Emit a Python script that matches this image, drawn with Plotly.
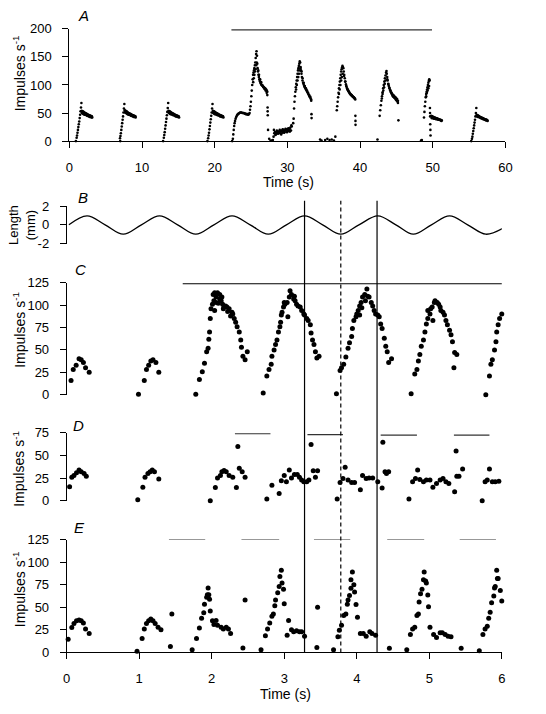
import plotly.graph_objects as go

# ---------------- Panel A data (time s, impulses/s) ----------------
a_t_b1 = [1.00,1.06,1.12,1.18,1.24,1.30,1.36,1.42,1.48,1.54,1.60,1.66,1.70,1.76,1.82,1.88,1.94,2.00,2.06,2.12,2.18,2.24,2.30,2.38,2.46,2.54,2.62,2.70,2.78,2.86,2.94,3.02,3.10,
          1.73,1.85,1.97,2.09,2.21,2.33,2.45,2.57,2.69,2.81,2.93,3.05,3.15]
a_v_b1 = [6,10,15,20,25,30,35,41,47,53,60,68,54,53,53,52,52,51,51,50,50,49,49,48,48,47,47,46,46,45,45,44,44,
          50,49,48,47,47,46,45,45,44,43,43,42,42]
a_t_b2 = [6.97,7.03,7.09,7.15,7.21,7.27,7.33,7.39,7.45,7.51,7.57,7.62,7.68,7.74,7.80,7.86,7.92,7.98,8.04,8.10,8.16,8.22,8.30,8.38,8.46,8.54,8.62,8.70,8.78,8.86,8.94,9.02,9.10,
          7.66,7.78,7.90,8.02,8.14,8.26,8.38,8.50,8.62,8.74,8.86,8.98,9.12]
a_v_b2 = [5,9,14,20,26,32,38,44,51,58,66,55,54,54,53,53,52,51,51,50,50,49,49,48,48,47,47,46,46,45,45,44,44,
          51,50,49,48,47,47,46,45,45,44,43,43,42]
a_t_b3 = [13.00,13.06,13.12,13.18,13.24,13.30,13.36,13.42,13.48,13.54,13.60,13.65,13.71,13.77,13.83,13.89,13.95,14.01,14.07,14.13,14.19,14.25,14.33,14.41,14.49,14.57,14.65,14.73,14.81,14.89,14.97,15.05,
          13.69,13.81,13.93,14.05,14.17,14.29,14.41,14.53,14.65,14.77,14.89,15.01,15.10]
a_v_b3 = [6,11,16,22,28,34,40,46,52,59,68,54,53,53,52,52,51,51,50,50,49,49,48,48,47,47,46,46,45,45,44,44,
          50,49,48,48,47,46,46,45,44,44,43,43,42]
a_t_b4 = [19.10,19.16,19.22,19.28,19.34,19.40,19.46,19.52,19.58,19.64,19.70,19.75,19.81,19.87,19.93,19.99,20.05,20.11,20.17,20.23,20.29,20.35,20.43,20.51,20.59,20.67,20.75,20.83,20.91,20.99,21.07,21.15,
          19.79,19.91,20.03,20.15,20.27,20.39,20.51,20.63,20.75,20.87,20.99,21.11,21.20]
a_v_b4 = [5,10,15,21,27,33,39,45,51,58,66,54,53,53,52,52,51,51,50,50,49,49,48,48,47,47,46,46,45,45,44,44,
          50,49,48,48,47,46,46,45,44,44,43,43,42]
a_t_s1 = [22.50,22.56,22.62,22.68,22.74,22.80,22.88,22.96,23.04,23.12,23.20,23.30,23.40,23.50,23.60,23.70,23.80,23.90,24.00,24.10,24.20,24.30,24.40,24.50,24.60,24.70,24.80,
          24.86,24.92,24.98,25.04,25.10,25.16,25.22,25.28,25.34,25.40,25.46,25.52,25.58,25.64,25.70,25.76,25.82,
          25.30,25.38,25.46,25.54,25.62,25.70,25.78,25.86,
          25.90,25.96,26.02,26.08,26.14,26.20,26.28,26.36,26.44,26.52,26.60,26.68,26.76,26.84,26.92,27.00,27.08,27.16,27.24,
          26.00,26.10,26.25,26.40,26.55,26.70,26.85,27.00,27.15,27.24,
          27.28,27.29,27.30,27.34,27.50,27.70]
a_v_s1 = [4,12,20,27,32,36,40,43,45,47,48,49,50,51,51,51,50,50,50,49,49,48,48,48,47,48,50,
          56,62,70,80,90,100,110,118,122,126,130,135,140,148,155,160,152,
          105,112,118,124,128,135,140,138,
          130,124,118,114,110,107,104,102,100,99,98,97,96,95,94,93,92,90,88,
          126,118,110,105,100,96,93,90,86,82,
          60,53,46,20,4,1]
a_t_low = [28.10,28.20,28.30,28.40,28.50,28.60,28.70,28.80,28.90,29.00,29.10,29.20,29.30,29.40,29.50,29.60,29.70,29.80,29.90,30.00,30.10,30.20,30.30,30.40,30.50,30.60,
           28.15,28.35,28.55,28.75,28.95,29.15,29.35,29.55,29.75,29.95,30.15,30.35,30.55]
a_v_low = [8,14,16,12,15,17,13,16,18,14,17,19,15,18,20,16,19,21,17,20,22,18,21,24,19,26,
           20,11,19,14,20,12,21,15,22,16,23,17,28]
a_t_s2 = [30.80,30.86,30.92,30.98,31.04,31.10,31.16,31.22,31.28,31.34,31.40,31.46,31.52,31.58,31.64,31.70,31.76,
          31.20,31.30,31.40,31.50,31.60,31.70,31.80,
          31.82,31.88,31.94,32.00,32.08,32.16,32.24,32.32,32.40,32.48,32.56,32.64,32.72,32.80,32.88,32.96,33.04,33.12,33.20,33.28,
          31.95,32.10,32.25,32.40,32.55,32.70,32.85,33.00,33.15,33.28,
          33.32,33.33]
a_v_s2 = [32,40,58,70,80,88,96,102,108,114,120,126,130,134,138,142,140,
          92,100,108,114,120,126,130,
          132,126,120,114,108,104,101,98,96,94,92,90,88,86,84,82,80,78,76,74,
          124,112,104,98,94,90,86,82,79,72,
          48,41]
a_t_zero = [0.9,7.0,12.9,19.0,22.4,27.9,28.0,34.5,34.7,35.2,35.5,35.8,36.1,36.4,36.6,42.4,48.4,48.5,55.3]
a_v_zero = [0,0,0,0,0,1,2,3,1,2,4,2,3,1,8,3,1,2,0]
a_t_s3 = [36.80,36.86,36.92,36.98,37.04,37.10,37.16,37.22,37.28,37.34,37.40,37.46,37.52,37.58,37.64,
          37.10,37.20,37.30,37.40,37.50,37.60,
          37.70,37.76,37.82,37.90,37.98,38.06,38.14,38.22,38.30,38.38,38.46,38.54,38.62,38.70,38.78,38.86,38.94,39.02,39.10,39.18,39.26,39.34,
          37.80,37.95,38.10,38.25,38.40,38.55,38.70,38.85,39.00,39.15,39.30,
          39.36,39.37,39.38]
a_v_s3 = [55,62,70,78,86,94,100,106,112,118,124,128,131,134,132,
          84,92,100,108,114,120,
          130,124,118,112,106,101,97,94,92,90,88,86,84,83,82,81,80,79,78,77,76,74,
          116,106,98,92,89,86,84,82,80,78,76,
          45,36,29]
a_t_s4 = [42.70,42.78,42.86,42.94,43.02,43.10,43.18,43.26,43.34,43.42,43.50,43.58,43.64,
          43.00,43.10,43.20,43.30,43.40,43.50,
          43.68,43.74,43.80,43.88,43.96,44.04,44.12,44.20,44.28,44.36,44.44,44.52,44.60,44.68,44.76,44.84,44.92,45.00,45.08,45.16,45.22,
          43.75,43.90,44.05,44.20,44.35,44.50,44.65,44.80,44.95,45.10,45.22,
          45.28]
a_v_s4 = [45,55,64,72,80,87,94,100,106,112,117,122,125,
          76,84,90,96,102,108,
          120,114,108,102,98,94,91,88,86,84,82,80,79,78,77,76,74,73,72,70,68,
          110,101,95,90,86,83,81,79,77,75,72,
          37]
a_t_s5 = [48.80,48.86,48.92,48.98,49.04,49.10,49.16,49.22,49.28,49.34,49.40,49.46,49.52,49.58,
          49.10,49.20,49.30,49.40,49.50,
          49.62,49.63,49.64,49.66,49.68,49.70,
          49.80,49.88,49.96,50.04,50.12,50.20,50.28,50.36,50.44,50.52,50.60,50.68,50.76,50.84,50.92,51.00,51.08,51.16,51.24,
          49.85,50.00,50.15,50.30,50.45,50.60,50.75,50.90,51.05,51.20]
a_v_s5 = [42,52,62,70,78,84,88,92,96,100,104,107,110,108,
          80,86,90,94,98,
          59,50,44,30,20,10,
          45,44,44,43,43,42,42,41,41,40,40,40,39,39,38,38,38,37,37,
          41,41,40,40,39,39,38,38,37,36]
a_t_b9 = [55.40,55.46,55.52,55.58,55.64,55.70,55.76,55.82,55.88,55.94,56.00,56.05,56.11,56.17,56.23,56.29,56.35,56.41,56.47,56.55,56.63,56.71,56.79,56.87,56.95,57.03,57.11,57.19,57.27,57.35,57.43,57.51,
          56.10,56.22,56.34,56.46,56.58,56.70,56.82,56.94,57.06,57.18,57.30,57.42,57.55]
a_v_b9 = [4,8,13,18,23,28,33,38,44,50,59,47,46,46,45,45,44,44,43,43,42,42,41,41,40,40,39,39,39,38,38,37,
          44,43,43,42,41,41,40,39,39,38,37,37,36]
a_stim_bar = [22.3, 49.9]
a_stim_level = 198

# ---------------- Panel B: muscle length (mm), read at extrema / crossings ----------------
b_time = [0.03,0.28,0.53,0.78,1.03,1.28,1.53,1.78,2.03,2.28,2.53,2.78,3.03,3.28,3.53,3.78,4.03,4.29,4.54,4.78,5.03,5.28,5.53,5.78,6.02]
b_len  = [0.0,0.95,0.0,-1.0,0.0,0.95,0.0,-1.0,0.0,0.95,0.0,-1.0,0.0,0.95,0.0,-1.0,0.0,0.95,0.0,-1.0,0.0,0.95,0.0,-1.0,-0.35]

# ---------------- Panel C ----------------
c_time = [0.06,0.09,0.13,0.17,0.20,0.23,0.26,0.31,
          0.99,1.07,1.10,1.13,1.16,1.19,1.23,1.27,
          1.78,1.83,1.87,1.90,1.93,1.95,1.96,1.97,1.98,1.99,2.01,2.02,2.03,2.04,2.04,2.06,2.06,2.08,2.09,2.11,2.11,2.13,2.14,2.15,2.16,2.17,2.19,2.21,2.22,2.24,2.26,2.28,2.29,2.31,2.33,2.35,2.38,2.40,2.41,2.43,2.46,2.49,
          2.71,2.76,2.79,2.82,2.83,2.86,2.88,2.90,2.92,2.94,2.95,2.96,2.97,2.99,3.00,3.01,3.04,3.05,3.07,3.08,3.10,3.13,3.14,3.15,3.17,3.19,3.22,3.24,3.27,3.28,3.31,3.33,3.36,3.37,3.39,3.41,3.43,3.45,3.48,
          3.72,3.77,3.79,3.82,3.85,3.88,3.90,3.93,3.94,3.96,3.99,4.00,4.02,4.04,4.04,4.06,4.07,4.08,4.11,4.12,4.14,4.15,4.17,4.20,4.22,4.24,4.26,4.29,4.31,4.33,4.35,4.38,4.40,4.42,4.44,4.48,
          4.75,4.80,4.83,4.85,4.87,4.89,4.92,4.94,4.96,4.98,4.98,5.01,5.02,5.04,5.05,5.07,5.08,5.11,5.13,5.15,5.16,5.19,5.21,5.23,5.25,5.28,5.30,5.32,5.34,5.35,5.38,
          5.78,5.83,5.85,5.87,5.90,5.92,5.93,5.95,5.97,6.00,6.02,6.04]
c_rate = [15.7,28,33,40,39,36,30,25,
          0.5,15.7,28,33,37.5,39,36,25,
          0.5,17,25.5,35,48,52,62,70,85,96,101,112,105,114,94,109,103,114,102,107,112,105,109,101,96,98,99,98,93,96,88,92,90,85,81,76,70,61,53,43,39,48,
          2,21,28,34,43,50,56,61,70,76,81,89,92,98,103,101,103,87,109,116,112,107,110,105,101,99,98,94,90,89,85,83,78,69,61,56,48,41,43,
          1,27,30,34,42,52,58,65,74,83,87,90,94,99,89,103,97,109,112,105,118,110,109,103,99,94,90,89,87,79,74,63,54,48,36,40,
          1,23,28,37.5,45,54,61,70,79,85,94,90,96,98,83,103,105,103,101,98,94,92,89,83,78,72,67,59,30,47,45,
          0,21,34,39,50,59,70,78,85,90,94,99]
c_stim_bar = [1.6, 6.05]
c_stim_level = 124

# ---------------- Panel D ----------------
d_time = [0.04,0.07,0.10,0.135,0.17,0.20,0.24,0.27,
          0.98,1.05,1.08,1.12,1.15,1.18,1.21,1.27,
          1.98,2.05,2.08,2.12,2.14,2.17,2.20,2.24,2.29,2.34,2.36,2.38,2.42,2.46,
          2.76,2.83,2.93,2.96,3.00,3.03,3.07,3.10,3.14,3.18,3.21,3.24,3.27,3.31,3.34,3.37,3.40,3.43,3.46,
          3.73,3.77,3.81,3.84,3.88,3.93,3.97,4.05,4.08,4.13,4.17,4.22,4.29,4.35,4.36,4.39,4.41,4.44,
          4.72,4.77,4.81,4.84,4.87,4.92,4.96,5.01,5.05,5.10,5.15,5.19,5.23,5.27,5.35,5.37,5.38,5.41,5.46,
          5.73,5.77,5.80,5.83,5.87,5.91,5.96,6.01]
d_rate = [15.5,26,28,31,34,32,30,27,
          1,15,26,30,32,34,32,24,
          0,14.5,25,28,32,33.5,32,28,26,14.5,60,36,32,26,
          2,17,8,22,28,21,34,25,29,29,26,23,21,21,23,62,33,26,33,
          2,20,24.5,37,23,20,20,12,28,24.5,25,25,21,14,64.5,32,30,32,
          2,21,24.5,34,23.5,21,23,23,15,19,23,24.5,21,19,10,55,27,27,35,
          0,21,23,35,21,21,21.6,19]
d_bar_starts = [2.32, 3.32, 4.33, 5.34]
d_bar_ends   = [2.81, 3.81, 4.83, 5.83]
d_bar_levels = [74, 73, 72.5, 72.5]

# ---------------- Panel E ----------------
e_time = [0.02,0.07,0.10,0.135,0.17,0.20,0.23,0.26,0.31,
          0.97,1.04,1.07,1.10,1.13,1.16,1.19,1.22,1.26,1.30,
          1.43,1.45,
          1.73,1.79,1.83,1.86,1.89,1.90,1.93,1.94,1.95,1.96,1.97,1.98,2.01,2.03,2.06,2.08,2.13,2.16,2.20,2.23,2.26,
          2.43,2.46,
          2.68,2.74,2.77,2.80,2.83,2.85,2.87,2.88,2.91,2.93,2.94,2.96,2.97,2.99,3.00,3.04,3.06,3.10,3.13,3.17,3.21,3.24,3.28,
          3.45,3.46,
          3.68,3.74,3.76,3.79,3.82,3.85,3.87,3.88,3.90,3.92,3.92,3.94,3.96,3.97,3.99,4.01,4.05,4.09,4.13,4.18,4.21,4.26,
          4.45,
          4.69,4.74,4.77,4.80,4.83,4.85,4.86,4.88,4.90,4.92,4.93,4.95,4.96,4.98,4.99,5.01,5.06,5.10,5.15,5.18,5.22,5.26,5.30,
          5.44,
          5.69,5.74,5.77,5.80,5.82,5.84,5.86,5.89,5.90,5.91,5.93,5.94,5.95,5.98,6.00]
e_rate = [14.5,27.5,32,35,36,35,32.5,26,21,
          1.4,15.5,26,32,35,37,35,32,28,25,
          6.5,42.6,
          3,15.5,27,38,44,53.5,61,64,71.5,64,59,46,35,31,35.4,30,28,26,28,26,21,
          5,58,
          3,18.4,26,32.5,40,42.6,51.7,58,66,73,84,91,77,70,54,19,35.4,25,23,24,23,23,18,
          5.4,50,
          3,17.3,24.5,30,40.8,42.6,53.5,58,63,71,80.6,89,75,67,53,39,21,21,18,23,21,19,
          4.7,
          3,20,26,28,41,42.6,56,65,70,80.6,89,79,77,63.6,50.6,28,20,16.6,21.7,21.7,20,18,17.3,
          4.7,
          1.8,20,26,29,38,44.4,55,62.5,71.5,73,91,82,82,68.6,57]
e_bar_starts = [1.41, 2.41, 3.41, 4.42, 5.42]
e_bar_ends   = [1.91, 2.93, 3.91, 4.93, 5.92]
e_bar_level = 125

# dividing lines (time, s)
solid_line_times = [3.28, 4.28]
dashed_line_time = 3.78

# ---------------- Figure ----------------
W, H = 546, 714
def px(x): return x / W
def py(y): return 1 - y / H

FONT = "Liberation Sans, Arial, sans-serif"
fig = go.Figure()

a_t = a_t_b1 + a_t_b2 + a_t_b3 + a_t_b4 + a_t_s1 + a_t_low + a_t_s2 + a_t_zero + a_t_s3 + a_t_s4 + a_t_s5 + a_t_b9
a_v = a_v_b1 + a_v_b2 + a_v_b3 + a_v_b4 + a_v_s1 + a_v_low + a_v_s2 + a_v_zero + a_v_s3 + a_v_s4 + a_v_s5 + a_v_b9

fig.add_trace(go.Scatter(x=a_t, y=a_v, mode="markers", xaxis="x", yaxis="y",
                         marker=dict(size=2.6, color="black"), cliponaxis=False, showlegend=False))
fig.add_trace(go.Scatter(x=a_stim_bar, y=[a_stim_level]*2, mode="lines", xaxis="x", yaxis="y",
                         line=dict(color="#333", width=1.3), cliponaxis=False, showlegend=False))

fig.add_trace(go.Scatter(x=b_time, y=b_len, mode="lines", xaxis="x2", yaxis="y2",
                         line=dict(color="black", width=1.3, shape="spline", smoothing=1.0),
                         cliponaxis=False, showlegend=False))

fig.add_trace(go.Scatter(x=c_time, y=c_rate, mode="markers", xaxis="x3", yaxis="y3",
                         marker=dict(size=5, color="black"), cliponaxis=False, showlegend=False))
fig.add_trace(go.Scatter(x=c_stim_bar, y=[c_stim_level]*2, mode="lines", xaxis="x3", yaxis="y3",
                         line=dict(color="black", width=1.1), cliponaxis=False, showlegend=False))

fig.add_trace(go.Scatter(x=d_time, y=d_rate, mode="markers", xaxis="x4", yaxis="y4",
                         marker=dict(size=5, color="black"), cliponaxis=False, showlegend=False))
for s, e, lv in zip(d_bar_starts, d_bar_ends, d_bar_levels):
    fig.add_trace(go.Scatter(x=[s, e], y=[lv, lv], mode="lines", xaxis="x4", yaxis="y4",
                             line=dict(color="#333", width=1.1), cliponaxis=False, showlegend=False))

fig.add_trace(go.Scatter(x=e_time, y=e_rate, mode="markers", xaxis="x5", yaxis="y5",
                         marker=dict(size=5, color="black"), cliponaxis=False, showlegend=False))
for s, e in zip(e_bar_starts, e_bar_ends):
    fig.add_trace(go.Scatter(x=[s, e], y=[e_bar_level]*2, mode="lines", xaxis="x5", yaxis="y5",
                             line=dict(color="#333", width=1.1), cliponaxis=False, showlegend=False))

ax_common = dict(showgrid=False, zeroline=False, showline=True, linecolor="black", linewidth=1,
                 ticks="outside", ticklen=6, tickwidth=1, tickcolor="black",
                 tickfont=dict(family=FONT, size=13, color="black"), ticklabelstandoff=8)

xdomA = [px(66.7), px(511.7)]
xdom = [px(64), px(508)]
fig.update_layout(
    width=W, height=H, margin=dict(l=0, r=0, t=0, b=0), autosize=False,
    paper_bgcolor="white", plot_bgcolor="white",
    xaxis=dict(domain=xdomA, range=[0, 60], anchor="y", tickvals=[0, 10, 20, 30, 40, 50, 60],
               **{**ax_common, "ticklabelstandoff": 8}),
    yaxis=dict(domain=[py(137), py(22.3)], range=[0, 200], anchor="x", tickvals=[0, 50, 100, 150, 200], **ax_common),
    xaxis2=dict(domain=xdom, range=[0, 6], anchor="y2", visible=False),
    yaxis2=dict(domain=[py(241.7), py(203.3)], range=[-2, 2], anchor="x2", tickvals=[-2, 0, 2],
                ticktext=["-2", "0", "2"], **ax_common),
    xaxis3=dict(domain=xdom, range=[0, 6], anchor="y3", visible=False),
    yaxis3=dict(domain=[py(396), py(281.7)], range=[0, 125], anchor="x3", tickvals=[0, 25, 50, 75, 100, 125], **ax_common),
    xaxis4=dict(domain=xdom, range=[0, 6], anchor="y4", visible=False),
    yaxis4=dict(domain=[py(504.3), py(435)], range=[0, 75], anchor="x4", tickvals=[0, 25, 50, 75], **ax_common),
    xaxis5=dict(domain=xdom, range=[0, 6], anchor="y5", tickvals=[0, 1, 2, 3, 4, 5, 6],
                **{**ax_common, "ticklabelstandoff": 8}),
    yaxis5=dict(domain=[py(659.3), py(544)], range=[0, 125], anchor="x5", tickvals=[0, 25, 50, 75, 100, 125], **ax_common),
)

shapes = []
for t in solid_line_times:
    shapes.append(dict(type="line", xref="x5", yref="paper", x0=t, x1=t, y0=py(659.3), y1=py(198),
                       line=dict(color="black", width=1.2)))
shapes.append(dict(type="line", xref="x5", yref="paper", x0=dashed_line_time, x1=dashed_line_time,
                   y0=py(659.3), y1=py(198), line=dict(color="black", width=1.2, dash="4px,3px")))
fig.update_layout(shapes=shapes)

ann = []
def add_text(text, x, y, size=14, angle=0):
    ann.append(dict(text=text, x=px(x), y=py(y), xref="paper", yref="paper", textangle=angle,
                    xanchor="center", yanchor="middle", showarrow=False,
                    font=dict(family=FONT, size=size, color="black")))

for letter, lx, ly in [("A", 81, 9), ("B", 81, 195), ("C", 78, 268), ("D", 76, 427), ("E", 77, 532)]:
    add_text(f"<i>{letter}</i>", lx, ly, size=15)

add_text("Impulses s<sup>-1</sup>", 15, 68, angle=-90)
add_text("Length<br>(mm)", 19, 223, size=13, angle=-90)
add_text("Impulses s<sup>-1</sup>", 15, 330, angle=-90)
add_text("Impulses s<sup>-1</sup>", 15, 472, angle=-90)
add_text("Impulses s<sup>-1</sup>", 15, 595, angle=-90)
add_text("Time (s)", 290, 179)
add_text("Time (s)", 287, 702)
fig.update_layout(annotations=ann)

# remove the browser's default page margin so the 546 x 714 figure fills the window exactly
fig.write_html("out.html", config={"displayModeBar": False},
               post_script="document.body.style.margin='0';document.body.style.overflow='hidden';")
